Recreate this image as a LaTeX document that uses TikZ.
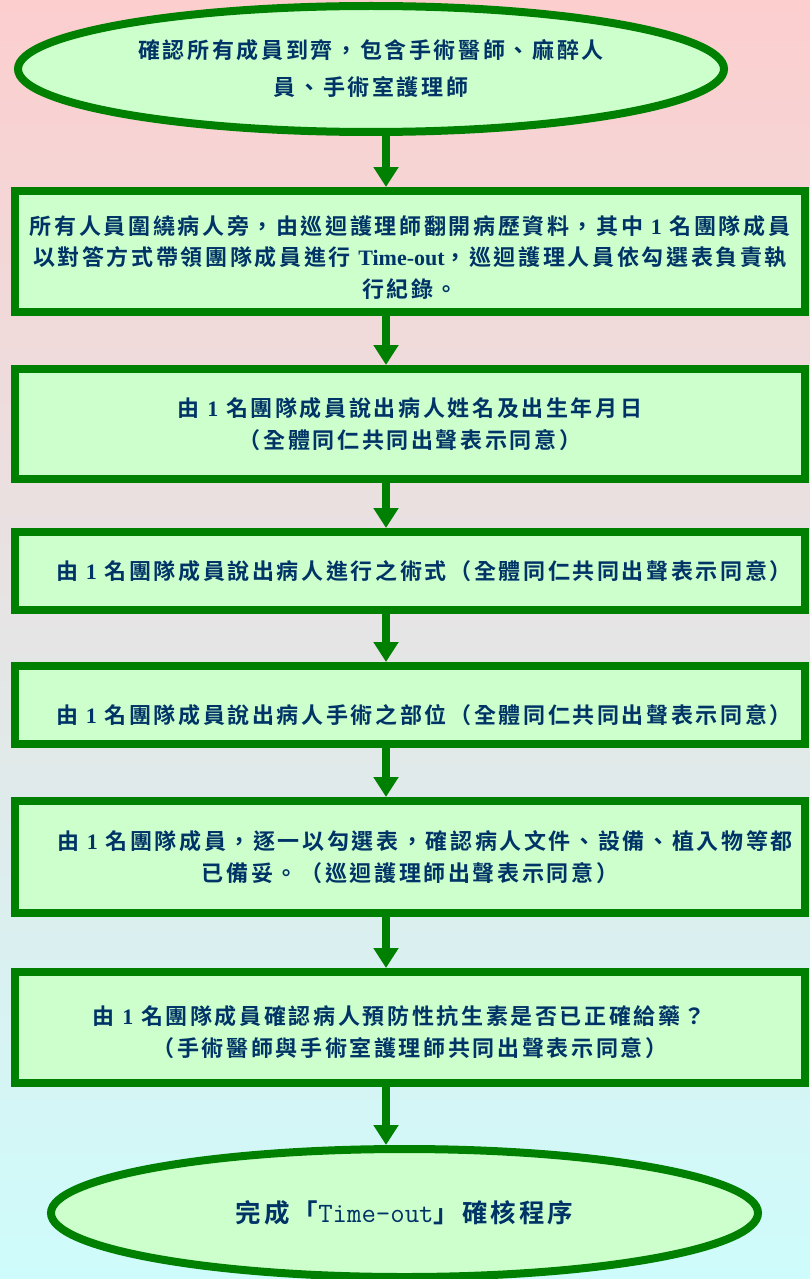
\documentclass[tikz,border=0pt]{standalone}
\usepackage{fontspec}
\usetikzlibrary{shapes.geometric,arrows.meta}
\newfontfamily\cjkfont{Noto Sans CJK TC}[UprightFont=* Bold, LetterSpace=12]
\newfontfamily\cjkbig{Noto Sans CJK TC}[UprightFont=* Bold, LetterSpace=12]
\newfontfamily\latbold{Liberation Serif}[UprightFont=* Bold]
\newcommand{\lat}[1]{{\latbold #1}}
\definecolor{fgreen}{RGB}{0,128,0}
\definecolor{lgreen}{RGB}{204,255,204}
\definecolor{navytext}{RGB}{0,51,102}
\definecolor{pinkbg}{RGB}{252,206,206}
\definecolor{cyanbg}{RGB}{206,252,252}
\tikzset{
  flowbox/.style={draw=fgreen, line width=8pt, fill=lgreen, rectangle,
    minimum width=790pt, inner sep=0pt, outer sep=4pt, text=navytext,
    align=center, font=\fontsize{22}{31.5}\selectfont\cjkfont},
  termin/.style={draw=fgreen, line width=8pt, fill=lgreen, ellipse,
    inner sep=0pt, outer sep=4pt, text=navytext, align=center},
  flowarrow/.style={draw=fgreen, line width=8pt,
    -{Triangle[width=24pt,length=20pt]}}
}
\begin{document}
\begin{tikzpicture}[x=1pt,y=-1pt]
\shade[top color=pinkbg, bottom color=cyanbg] (0,0) rectangle (810,1279);
\useasboundingbox (0,0) rectangle (810,1279);
\coordinate (ax) at (386,0);

\node[termin, minimum width=706pt, minimum height=126pt,
  font=\fontsize{22}{37}\selectfont\cjkfont] (s) at (371,69)
  {確認所有成員到齊，包含手術醫師、麻醉人\\員、手術室護理師};

\node[flowbox, minimum height=121pt] (b1) at (410,251.5)
  {\rule{0pt}{30pt}所有人員圍繞病人旁，由巡迴護理師翻開病歷資料，其中 \lat{1} 名團隊成員\\
   以對答方式帶領團隊成員進行 \lat{Time-out}，巡迴護理人員依勾選表負責執\\
   行紀錄。};

\node[flowbox, minimum height=110pt] (b2) at (410,424)
  {由 \lat{1} 名團隊成員說出病人姓名及出生年月日\\（全體同仁共同出聲表示同意）};

\node[flowbox, minimum height=78pt] (b3) at (410,571)
  {\hspace*{28pt}由 \lat{1} 名團隊成員說出病人進行之術式（全體同仁共同出聲表示同意）};

\node[flowbox, minimum height=78pt] (b4) at (410,705)
  {\rule{0pt}{40pt}\hspace*{28pt}由 \lat{1} 名團隊成員說出病人手術之部位（全體同仁共同出聲表示同意）};

\node[flowbox, minimum height=112pt] (b5) at (410,857)
  {\hspace*{30pt}由 \lat{1} 名團隊成員，逐一以勾選表，確認病人文件、設備、植入物等都\\已備妥。（巡迴護理師出聲表示同意）};

\node[flowbox, minimum height=111pt] (b6) at (410,1027.5)
  {\rule{0pt}{28pt}由 \lat{1} 名團隊成員確認病人預防性抗生素是否已正確給藥？\hspace*{22pt}\\（手術醫師與手術室護理師共同出聲表示同意）};

\node[termin, minimum width=707pt, minimum height=128pt,
  font=\fontsize{25.5}{30}\selectfont\cjkbig] (e) at (404.5,1213)
  {完成「{\ttfamily\fontsize{28}{30}\selectfont Time-out}」確核程序};

\draw[flowarrow] (s.south -| ax) -- (b1.north -| ax);
\draw[flowarrow] (b1.south -| ax) -- (b2.north -| ax);
\draw[flowarrow] (b2.south -| ax) -- (b3.north -| ax);
\draw[flowarrow] (b3.south -| ax) -- (b4.north -| ax);
\draw[flowarrow] (b4.south -| ax) -- (b5.north -| ax);
\draw[flowarrow] (b5.south -| ax) -- (b6.north -| ax);
\draw[flowarrow] (b6.south -| ax) -- (e.north -| ax);
\end{tikzpicture}
\end{document}
